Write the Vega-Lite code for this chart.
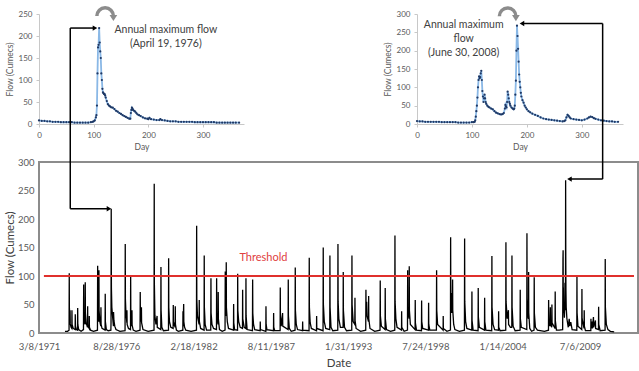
{
  "$schema": "https://vega.github.io/schema/vega-lite/v6.json",
  "background": "white",
  "padding": {"left": 3, "top": 0, "right": 0, "bottom": 0},
  "config": {
    "font": "Lato",
    "view": {"stroke": null},
    "axis": {"grid": false, "labelColor": "#595959", "titleColor": "#595959", "titleFontWeight": "normal", "labelFont": "Lato", "titleFont": "Lato", "labelOverlap": false, "tickCount": 20}
  },
  "datasets": {
    "flow": [
      {"d":"1973-01-08","q":3},{"d":"1973-03-15","q":3},{"d":"1973-04-24","q":5},{"d":"1973-04-29","q":105},{"d":"1973-05-02","q":45},{"d":"1973-05-15","q":22},{"d":"1973-05-20","q":40},{"d":"1973-05-25","q":16},{"d":"1973-06-15","q":10},{"d":"1973-07-04","q":8},{"d":"1973-07-08","q":40},{"d":"1973-07-12","q":15},{"d":"1973-08-10","q":8},{"d":"1973-09-28","q":6},{"d":"1973-10-02","q":33},{"d":"1973-10-06","q":12},{"d":"1973-10-30","q":6},{"d":"1973-11-29","q":5},{"d":"1973-12-03","q":44},{"d":"1973-12-07","q":15},{"d":"1973-12-28","q":6},
      {"d":"1974-03-01","q":3},{"d":"1974-05-02","q":6},{"d":"1974-05-07","q":85},{"d":"1974-05-11","q":35},{"d":"1974-05-25","q":20},{"d":"1974-06-13","q":15},{"d":"1974-06-17","q":89},{"d":"1974-06-21","q":35},{"d":"1974-07-10","q":18},{"d":"1974-08-14","q":10},{"d":"1974-08-18","q":47},{"d":"1974-08-22","q":15},{"d":"1974-09-10","q":10},{"d":"1974-09-26","q":8},{"d":"1974-09-29","q":30},{"d":"1974-10-03","q":10},{"d":"1974-11-01","q":5},
      {"d":"1975-01-15","q":3},{"d":"1975-04-29","q":5},{"d":"1975-05-04","q":118},{"d":"1975-05-08","q":45},{"d":"1975-05-25","q":25},{"d":"1975-06-02","q":20},{"d":"1975-06-06","q":110},{"d":"1975-06-10","q":40},{"d":"1975-06-30","q":20},{"d":"1975-07-24","q":12},{"d":"1975-07-28","q":45},{"d":"1975-08-01","q":15},{"d":"1975-08-25","q":8},{"d":"1975-11-12","q":5},{"d":"1975-11-16","q":69},{"d":"1975-11-20","q":20},{"d":"1975-12-15","q":6},
      {"d":"1976-02-01","q":4},{"d":"1976-04-10","q":5},{"d":"1976-04-14","q":18},{"d":"1976-04-16","q":115},{"d":"1976-04-19","q":218},{"d":"1976-04-21","q":165},{"d":"1976-04-24","q":80},{"d":"1976-05-05","q":45},{"d":"1976-05-25","q":28},{"d":"1976-06-15","q":12},{"d":"1976-06-18","q":37},{"d":"1976-06-28","q":22},{"d":"1976-07-20","q":12},{"d":"1976-08-20","q":6},{"d":"1976-12-01","q":3},
      {"d":"1977-04-12","q":4},{"d":"1977-04-17","q":156},{"d":"1977-04-21","q":60},{"d":"1977-05-02","q":40},{"d":"1977-05-28","q":18},{"d":"1977-05-31","q":40},{"d":"1977-06-05","q":15},{"d":"1977-07-10","q":8},{"d":"1977-08-31","q":6},{"d":"1977-09-04","q":100},{"d":"1977-09-08","q":40},{"d":"1977-09-20","q":25},{"d":"1977-10-05","q":12},{"d":"1977-10-08","q":40},{"d":"1977-10-12","q":14},{"d":"1977-11-10","q":5},
      {"d":"1978-01-20","q":3},{"d":"1978-05-05","q":5},{"d":"1978-05-10","q":72},{"d":"1978-05-14","q":30},{"d":"1978-06-01","q":20},{"d":"1978-06-10","q":45},{"d":"1978-06-14","q":18},{"d":"1978-07-20","q":6},{"d":"1978-12-01","q":3},
      {"d":"1979-05-02","q":5},{"d":"1979-05-07","q":262},{"d":"1979-05-10","q":90},{"d":"1979-05-25","q":30},{"d":"1979-06-20","q":15},{"d":"1979-07-20","q":30},{"d":"1979-07-25","q":10},{"d":"1979-10-24","q":6},{"d":"1979-10-28","q":116},{"d":"1979-11-01","q":40},{"d":"1979-11-20","q":10},{"d":"1979-12-31","q":4},
      {"d":"1980-05-10","q":5},{"d":"1980-05-14","q":131},{"d":"1980-05-18","q":45},{"d":"1980-06-05","q":20},{"d":"1980-07-10","q":10},{"d":"1980-09-07","q":8},{"d":"1980-09-11","q":49},{"d":"1980-09-15","q":20},{"d":"1980-10-29","q":10},{"d":"1980-11-02","q":47},{"d":"1980-11-06","q":15},{"d":"1980-12-01","q":5},
      {"d":"1981-01-20","q":3},{"d":"1981-05-16","q":5},{"d":"1981-05-20","q":38},{"d":"1981-05-25","q":12},{"d":"1981-06-07","q":51},{"d":"1981-06-11","q":20},{"d":"1981-07-01","q":10},{"d":"1981-08-01","q":5},{"d":"1981-12-15","q":3},
      {"d":"1982-05-04","q":5},{"d":"1982-05-09","q":188},{"d":"1982-05-13","q":60},{"d":"1982-05-30","q":30},{"d":"1982-07-11","q":15},{"d":"1982-07-15","q":58},{"d":"1982-07-19","q":20},{"d":"1982-08-20","q":8},{"d":"1982-11-17","q":5},{"d":"1982-11-21","q":136},{"d":"1982-11-25","q":45},{"d":"1982-12-15","q":15},
      {"d":"1983-01-20","q":5},{"d":"1983-05-09","q":5},{"d":"1983-05-14","q":96},{"d":"1983-05-18","q":35},{"d":"1983-06-10","q":15},{"d":"1983-07-20","q":8},{"d":"1983-10-04","q":6},{"d":"1983-10-08","q":96},{"d":"1983-10-12","q":35},{"d":"1983-11-14","q":15},{"d":"1983-11-18","q":72},{"d":"1983-11-22","q":25},{"d":"1983-12-20","q":6},
      {"d":"1984-03-01","q":3},{"d":"1984-05-13","q":5},{"d":"1984-05-18","q":108},{"d":"1984-05-22","q":50},{"d":"1984-06-09","q":30},{"d":"1984-06-13","q":124},{"d":"1984-06-17","q":45},{"d":"1984-07-10","q":20},{"d":"1984-08-10","q":8},{"d":"1984-12-17","q":5},{"d":"1984-12-21","q":51},{"d":"1984-12-25","q":18},
      {"d":"1985-01-15","q":6},{"d":"1985-04-01","q":5},{"d":"1985-04-05","q":104},{"d":"1985-04-09","q":40},{"d":"1985-05-01","q":20},{"d":"1985-06-10","q":10},{"d":"1985-08-07","q":8},{"d":"1985-08-11","q":76},{"d":"1985-08-15","q":25},{"d":"1985-09-20","q":10},{"d":"1985-11-01","q":8},{"d":"1985-11-05","q":96},{"d":"1985-11-09","q":30},{"d":"1985-12-05","q":6},
      {"d":"1986-04-22","q":4},{"d":"1986-04-27","q":94},{"d":"1986-05-01","q":35},{"d":"1986-05-20","q":15},{"d":"1986-06-20","q":6},{"d":"1986-11-07","q":4},{"d":"1986-11-10","q":20},{"d":"1986-11-15","q":6},
      {"d":"1987-04-03","q":3},{"d":"1987-04-07","q":47},{"d":"1987-04-11","q":15},{"d":"1987-05-01","q":6},{"d":"1987-10-19","q":4},{"d":"1987-10-22","q":35},{"d":"1987-10-26","q":10},{"d":"1987-11-20","q":4},
      {"d":"1988-04-07","q":4},{"d":"1988-04-11","q":80},{"d":"1988-04-15","q":30},{"d":"1988-05-05","q":12},{"d":"1988-06-10","q":35},{"d":"1988-06-14","q":12},{"d":"1988-10-31","q":6},{"d":"1988-11-04","q":94},{"d":"1988-11-08","q":30},{"d":"1988-12-01","q":8},
      {"d":"1989-01-20","q":3},{"d":"1989-04-29","q":5},{"d":"1989-05-04","q":115},{"d":"1989-05-08","q":40},{"d":"1989-05-30","q":15},{"d":"1989-07-01","q":6},{"d":"1989-11-08","q":4},{"d":"1989-11-11","q":20},{"d":"1989-11-16","q":5},
      {"d":"1990-04-26","q":4},{"d":"1990-05-01","q":132},{"d":"1990-05-05","q":45},{"d":"1990-05-25","q":18},{"d":"1990-06-25","q":8},{"d":"1990-11-05","q":4},{"d":"1990-11-08","q":30},{"d":"1990-11-12","q":8},
      {"d":"1991-04-23","q":4},{"d":"1991-04-28","q":150},{"d":"1991-05-02","q":50},{"d":"1991-05-25","q":20},{"d":"1991-07-01","q":8},{"d":"1991-10-14","q":6},{"d":"1991-10-18","q":136},{"d":"1991-10-22","q":45},{"d":"1991-11-15","q":10},{"d":"1991-12-31","q":4},
      {"d":"1992-05-08","q":5},{"d":"1992-05-13","q":156},{"d":"1992-05-17","q":55},{"d":"1992-06-05","q":25},{"d":"1992-07-15","q":10},{"d":"1992-09-23","q":10},{"d":"1992-09-27","q":107},{"d":"1992-10-01","q":40},{"d":"1992-10-30","q":10},{"d":"1992-12-20","q":4},
      {"d":"1993-05-05","q":5},{"d":"1993-05-10","q":136},{"d":"1993-05-14","q":50},{"d":"1993-06-10","q":20},{"d":"1993-07-23","q":15},{"d":"1993-07-27","q":62},{"d":"1993-07-31","q":22},{"d":"1993-08-25","q":8},{"d":"1993-12-20","q":3},
      {"d":"1994-05-02","q":5},{"d":"1994-05-07","q":76},{"d":"1994-05-11","q":40},{"d":"1994-05-25","q":55},{"d":"1994-06-05","q":30},{"d":"1994-07-12","q":20},{"d":"1994-07-16","q":65},{"d":"1994-07-20","q":25},{"d":"1994-08-20","q":8},{"d":"1994-12-20","q":3},
      {"d":"1995-05-07","q":5},{"d":"1995-05-12","q":92},{"d":"1995-05-16","q":30},{"d":"1995-06-10","q":12},{"d":"1995-09-14","q":6},{"d":"1995-09-18","q":79},{"d":"1995-09-22","q":25},{"d":"1995-10-20","q":6},
      {"d":"1996-02-01","q":3},{"d":"1996-05-22","q":5},{"d":"1996-05-27","q":171},{"d":"1996-05-31","q":55},{"d":"1996-06-20","q":25},{"d":"1996-07-20","q":10},{"d":"1996-11-13","q":5},{"d":"1996-11-16","q":38},{"d":"1996-11-20","q":10},
      {"d":"1997-01-20","q":3},{"d":"1997-04-16","q":5},{"d":"1997-04-21","q":110},{"d":"1997-04-25","q":40},{"d":"1997-05-28","q":25},{"d":"1997-06-01","q":117},{"d":"1997-06-05","q":40},{"d":"1997-06-30","q":15},{"d":"1997-10-30","q":6},{"d":"1997-11-03","q":58},{"d":"1997-11-07","q":18},{"d":"1997-12-05","q":5},
      {"d":"1998-04-13","q":4},{"d":"1998-04-17","q":57},{"d":"1998-04-21","q":20},{"d":"1998-05-15","q":8},{"d":"1998-10-11","q":5},{"d":"1998-10-15","q":53},{"d":"1998-10-19","q":15},{"d":"1998-11-15","q":5},
      {"d":"1999-05-05","q":5},{"d":"1999-05-10","q":110},{"d":"1999-05-14","q":40},{"d":"1999-06-05","q":15},{"d":"1999-10-25","q":5},{"d":"1999-10-28","q":30},{"d":"1999-11-01","q":8},
      {"d":"2000-02-01","q":3},{"d":"2000-05-02","q":5},{"d":"2000-05-07","q":168},{"d":"2000-05-11","q":70},{"d":"2000-05-20","q":60},{"d":"2000-05-25","q":35},{"d":"2000-06-05","q":50},{"d":"2000-06-12","q":70},{"d":"2000-06-18","q":35},{"d":"2000-06-27","q":94},{"d":"2000-07-01","q":40},{"d":"2000-07-25","q":15},{"d":"2000-08-25","q":6},{"d":"2000-12-20","q":3},
      {"d":"2001-04-29","q":5},{"d":"2001-05-04","q":166},{"d":"2001-05-08","q":55},{"d":"2001-05-30","q":20},{"d":"2001-07-01","q":8},{"d":"2001-11-05","q":5},{"d":"2001-11-09","q":73},{"d":"2001-11-13","q":22},{"d":"2001-12-10","q":5},
      {"d":"2002-04-17","q":4},{"d":"2002-04-21","q":79},{"d":"2002-04-25","q":28},{"d":"2002-05-20","q":10},{"d":"2002-09-30","q":5},{"d":"2002-10-04","q":62},{"d":"2002-10-08","q":20},{"d":"2002-11-05","q":5},
      {"d":"2003-04-05","q":4},{"d":"2003-04-10","q":135},{"d":"2003-04-14","q":45},{"d":"2003-05-10","q":15},{"d":"2003-06-20","q":6},{"d":"2003-09-28","q":5},{"d":"2003-10-01","q":38},{"d":"2003-10-05","q":10},{"d":"2003-11-10","q":4},
      {"d":"2004-04-02","q":5},{"d":"2004-04-07","q":159},{"d":"2004-04-11","q":55},{"d":"2004-05-10","q":25},{"d":"2004-06-10","q":40},{"d":"2004-06-15","q":15},{"d":"2004-08-01","q":10},{"d":"2004-09-06","q":10},{"d":"2004-09-10","q":136},{"d":"2004-09-14","q":45},{"d":"2004-10-10","q":12},{"d":"2004-12-01","q":4},
      {"d":"2005-04-08","q":5},{"d":"2005-04-12","q":76},{"d":"2005-04-16","q":25},{"d":"2005-05-10","q":10},{"d":"2005-09-29","q":6},{"d":"2005-10-03","q":175},{"d":"2005-10-07","q":60},{"d":"2005-10-25","q":30},{"d":"2005-11-11","q":25},{"d":"2005-11-15","q":107},{"d":"2005-11-19","q":35},{"d":"2005-12-15","q":8},
      {"d":"2006-02-01","q":3},{"d":"2006-04-05","q":5},{"d":"2006-04-09","q":98},{"d":"2006-04-13","q":35},{"d":"2006-05-10","q":10},{"d":"2006-07-01","q":5},{"d":"2006-12-31","q":3},
      {"d":"2007-04-13","q":5},{"d":"2007-04-17","q":58},{"d":"2007-04-21","q":20},{"d":"2007-05-20","q":12},{"d":"2007-06-01","q":45},{"d":"2007-06-05","q":15},{"d":"2007-07-07","q":10},{"d":"2007-07-11","q":50},{"d":"2007-07-15","q":18},{"d":"2007-09-30","q":8},{"d":"2007-10-04","q":73},{"d":"2007-10-08","q":22},{"d":"2007-11-05","q":5},
      {"d":"2008-01-15","q":5},{"d":"2008-04-14","q":6},{"d":"2008-04-19","q":72},{"d":"2008-04-22","q":130},{"d":"2008-04-26","q":145},{"d":"2008-04-29","q":75},{"d":"2008-05-02","q":80},{"d":"2008-05-07","q":50},{"d":"2008-05-17","q":40},{"d":"2008-05-29","q":27},{"d":"2008-06-09","q":52},{"d":"2008-06-13","q":88},{"d":"2008-06-20","q":45},{"d":"2008-06-24","q":40},{"d":"2008-06-28","q":118},{"d":"2008-06-30","q":268},{"d":"2008-07-02","q":200},{"d":"2008-07-04","q":135},{"d":"2008-07-08","q":75},{"d":"2008-07-15","q":45},{"d":"2008-08-02","q":25},{"d":"2008-09-06","q":10},{"d":"2008-09-30","q":25},{"d":"2008-10-15","q":12},{"d":"2008-11-10","q":19},{"d":"2008-12-15","q":6},
      {"d":"2009-04-15","q":5},{"d":"2009-04-19","q":100},{"d":"2009-04-23","q":35},{"d":"2009-05-15","q":12},{"d":"2009-08-22","q":6},{"d":"2009-08-26","q":77},{"d":"2009-08-30","q":25},{"d":"2009-10-20","q":8},{"d":"2009-10-24","q":40},{"d":"2009-10-28","q":12},{"d":"2009-11-25","q":4},
      {"d":"2010-04-13","q":4},{"d":"2010-04-16","q":25},{"d":"2010-04-20","q":8},{"d":"2010-05-20","q":20},{"d":"2010-05-25","q":8},{"d":"2010-06-20","q":28},{"d":"2010-06-25","q":10},{"d":"2010-08-10","q":22},{"d":"2010-08-15","q":8},{"d":"2010-10-28","q":6},{"d":"2010-11-01","q":46},{"d":"2010-11-05","q":15},{"d":"2010-12-10","q":4},
      {"d":"2011-04-17","q":5},{"d":"2011-04-21","q":130},{"d":"2011-04-25","q":45},{"d":"2011-05-20","q":15},{"d":"2011-06-30","q":6},{"d":"2011-09-01","q":3},{"d":"2011-12-08","q":2}
    ],
    "y1976": [
      {"day":0,"q":8},{"day":5,"q":7},{"day":10,"q":7},{"day":15,"q":6},{"day":20,"q":6},{"day":25,"q":5},{"day":30,"q":5},{"day":35,"q":5},{"day":40,"q":4},{"day":45,"q":4},{"day":50,"q":4},{"day":55,"q":4},{"day":60,"q":4},{"day":65,"q":3},{"day":70,"q":3},{"day":75,"q":3},{"day":80,"q":3},{"day":85,"q":3},{"day":90,"q":3},{"day":95,"q":4},{"day":98,"q":5},{"day":100,"q":6},{"day":102,"q":8},{"day":104,"q":15},{"day":105,"q":20},{"day":106,"q":42},{"day":107,"q":115},{"day":108,"q":174},{"day":109,"q":180},{"day":110,"q":218},{"day":111,"q":185},{"day":112,"q":165},{"day":113,"q":150},{"day":114,"q":115},{"day":115,"q":100},{"day":116,"q":80},{"day":117,"q":72},{"day":118,"q":70},{"day":119,"q":68},{"day":120,"q":68},{"day":121,"q":65},{"day":122,"q":60},{"day":124,"q":52},{"day":126,"q":45},{"day":128,"q":42},{"day":130,"q":40},{"day":132,"q":38},{"day":135,"q":37},{"day":138,"q":34},{"day":141,"q":30},{"day":144,"q":28},{"day":147,"q":25},{"day":150,"q":23},{"day":153,"q":20},{"day":156,"q":18},{"day":159,"q":16},{"day":162,"q":14},{"day":165,"q":12},{"day":167,"q":12},{"day":168,"q":25},{"day":169,"q":32},{"day":170,"q":37},{"day":171,"q":35},{"day":172,"q":32},{"day":174,"q":30},{"day":176,"q":28},{"day":178,"q":25},{"day":180,"q":22},{"day":183,"q":20},{"day":186,"q":18},{"day":190,"q":15},{"day":194,"q":13},{"day":198,"q":12},{"day":200,"q":11},{"day":202,"q":14},{"day":205,"q":11},{"day":210,"q":10},{"day":215,"q":9},{"day":220,"q":9},{"day":222,"q":11},{"day":225,"q":9},{"day":230,"q":8},{"day":235,"q":7},{"day":240,"q":6},{"day":245,"q":6},{"day":250,"q":6},{"day":255,"q":5},{"day":260,"q":5},{"day":265,"q":5},{"day":270,"q":5},{"day":275,"q":5},{"day":280,"q":5},{"day":285,"q":4},{"day":290,"q":4},{"day":295,"q":4},{"day":300,"q":4},{"day":305,"q":4},{"day":310,"q":4},{"day":315,"q":4},{"day":320,"q":4},{"day":325,"q":3},{"day":330,"q":3},{"day":335,"q":3},{"day":340,"q":3},{"day":345,"q":3},{"day":350,"q":3},{"day":355,"q":3},{"day":360,"q":3},{"day":366,"q":3}
    ],
    "y2008": [
      {"day":0,"q":8},{"day":5,"q":7},{"day":10,"q":7},{"day":15,"q":6},{"day":20,"q":6},{"day":25,"q":6},{"day":30,"q":6},{"day":35,"q":6},{"day":40,"q":6},{"day":45,"q":5},{"day":50,"q":5},{"day":55,"q":5},{"day":60,"q":5},{"day":65,"q":5},{"day":70,"q":5},{"day":75,"q":4},{"day":80,"q":4},{"day":85,"q":4},{"day":90,"q":4},{"day":95,"q":4},{"day":100,"q":5},{"day":103,"q":5},{"day":105,"q":6},{"day":106,"q":10},{"day":107,"q":20},{"day":108,"q":35},{"day":109,"q":50},{"day":110,"q":72},{"day":111,"q":100},{"day":112,"q":120},{"day":113,"q":130},{"day":114,"q":125},{"day":115,"q":128},{"day":116,"q":138},{"day":117,"q":145},{"day":118,"q":120},{"day":119,"q":90},{"day":120,"q":75},{"day":121,"q":60},{"day":122,"q":70},{"day":123,"q":80},{"day":124,"q":70},{"day":125,"q":60},{"day":126,"q":55},{"day":128,"q":50},{"day":130,"q":47},{"day":132,"q":45},{"day":135,"q":42},{"day":138,"q":40},{"day":141,"q":35},{"day":144,"q":31},{"day":147,"q":29},{"day":150,"q":27},{"day":153,"q":26},{"day":156,"q":27},{"day":158,"q":30},{"day":160,"q":42},{"day":161,"q":52},{"day":162,"q":48},{"day":163,"q":45},{"day":164,"q":60},{"day":165,"q":88},{"day":166,"q":80},{"day":167,"q":70},{"day":168,"q":60},{"day":169,"q":55},{"day":170,"q":50},{"day":172,"q":45},{"day":174,"q":42},{"day":176,"q":40},{"day":177,"q":42},{"day":178,"q":50},{"day":179,"q":80},{"day":180,"q":118},{"day":181,"q":200},{"day":182,"q":268},{"day":183,"q":240},{"day":184,"q":205},{"day":185,"q":170},{"day":186,"q":135},{"day":187,"q":115},{"day":188,"q":100},{"day":189,"q":85},{"day":190,"q":75},{"day":192,"q":65},{"day":194,"q":58},{"day":196,"q":50},{"day":198,"q":45},{"day":200,"q":40},{"day":203,"q":35},{"day":206,"q":32},{"day":210,"q":28},{"day":215,"q":25},{"day":220,"q":22},{"day":225,"q":18},{"day":230,"q":15},{"day":235,"q":13},{"day":240,"q":12},{"day":245,"q":11},{"day":250,"q":10},{"day":255,"q":9},{"day":260,"q":8},{"day":265,"q":7},{"day":268,"q":8},{"day":270,"q":10},{"day":272,"q":18},{"day":274,"q":25},{"day":276,"q":22},{"day":278,"q":18},{"day":280,"q":15},{"day":285,"q":13},{"day":290,"q":12},{"day":295,"q":11},{"day":300,"q":10},{"day":305,"q":12},{"day":310,"q":15},{"day":313,"q":18},{"day":316,"q":20},{"day":319,"q":19},{"day":322,"q":16},{"day":325,"q":14},{"day":330,"q":12},{"day":335,"q":10},{"day":340,"q":9},{"day":345,"q":8},{"day":350,"q":7},{"day":355,"q":7},{"day":360,"q":6},{"day":366,"q":6}
    ],
    "ann1": [{"day":232,"q":225,"label":"Annual maximum flow\n(April 19, 1976)"}],
    "ann2": [{"day":85,"q":285,"label":"Annual maximum\nflow\n(June 30, 2008)"}],
    "curl1": [{"day":123,"q":258}],
    "curl2": [{"day":167,"q":309}],
    "arrows": [
      {"d":"1973-05-25","q":535,"d2":"1973-05-25","q2":218},
      {"d":"1973-05-25","q":535,"d2":"1975-02-24","q2":535},
      {"d":"1973-05-25","q":218,"d2":"1976-02-21","q2":218},
      {"d":"2011-02-13","q":543,"d2":"2011-02-13","q2":270},
      {"d":"2011-02-13","q":543,"d2":"2005-05-27","q2":543},
      {"d":"2011-02-13","q":270,"d2":"2008-10-07","q2":270}
    ],
    "heads": [
      {"d":"1975-02-24","q":535,"shape":"triangle-right"},
      {"d":"1976-02-21","q":218,"shape":"triangle-right"},
      {"d":"2005-05-27","q":543,"shape":"triangle-left"},
      {"d":"2008-10-07","q":270,"shape":"triangle-left"}
    ],
    "threshold": [{"d":"1971-07-13","d2":"2013-05-04","q":100,"label":"Threshold","dl":"1987-02-01","ql":131}]
  },
  "bounds": "flush",
  "spacing": 148,
  "vconcat": [
    {
      "bounds": "flush",
      "spacing": 173,
      "hconcat": [
        {
          "width": 205, "height": 110,
          "layer": [
            {"data": {"name": "y1976"}, "mark": {"type": "line", "color": "#8ab8e6", "strokeWidth": 1.8},
             "encoding": {
               "x": {"field": "day", "type": "quantitative", "scale": {"domain": [0, 375], "nice": false},
                     "axis": {"values": [0,100,200,300], "tickCount": 20, "title": "Day", "labelFontSize": 8, "titleFontSize": 8.5, "domainColor": "#c8c8c8", "tickColor": "#c8c8c8", "tickSize": 3, "labelPadding": 4, "titlePadding": 3, "labelFlush": false}},
               "y": {"field": "q", "type": "quantitative", "scale": {"domain": [0, 250], "nice": false},
                     "axis": {"values": [0,50,100,150,200,250], "tickCount": 20, "title": "Flow (Cumecs)", "labelFontSize": 8, "titleFontSize": 8.5, "domainColor": "#c8c8c8", "tickColor": "#c8c8c8", "tickSize": 3, "labelPadding": 4, "titlePadding": 4, "labelFlush": false}}
             }},
            {"data": {"name": "y1976"}, "mark": {"type": "circle", "size": 5, "color": "#1f3864", "opacity": 1},
             "encoding": {"x": {"field": "day", "type": "quantitative"}, "y": {"field": "q", "type": "quantitative"}}},
            {"data": {"name": "ann1"}, "mark": {"type": "text", "fontSize": 10.5, "color": "#404040", "lineBreak": "\n", "baseline": "top", "align": "center", "lineHeight": 14},
             "encoding": {"x": {"field": "day", "type": "quantitative"}, "y": {"field": "q", "type": "quantitative"}, "text": {"field": "label"}}},
            {"data": {"name": "curl1"}, "mark": {"type": "point", "shape": "M -0.85 0.5 A 0.75 0.75 0 0 1 0.65 0.5", "filled": false, "size": 484, "strokeWidth": 3.5, "color": "#8c8c8c", "opacity": 1},
             "encoding": {"x": {"field": "day", "type": "quantitative"}, "y": {"field": "q", "type": "quantitative"}}},
            {"data": {"name": "curl1"}, "mark": {"type": "point", "shape": "M 0.3 0.4 L 1.0 0.4 L 0.65 0.95 Z", "filled": true, "size": 484, "color": "#8c8c8c", "opacity": 1},
             "encoding": {"x": {"field": "day", "type": "quantitative"}, "y": {"field": "q", "type": "quantitative"}}}
          ]
        },
        {
          "width": 206, "height": 110,
          "layer": [
            {"data": {"name": "y2008"}, "mark": {"type": "line", "color": "#8ab8e6", "strokeWidth": 1.8},
             "encoding": {
               "x": {"field": "day", "type": "quantitative", "scale": {"domain": [0, 375], "nice": false},
                     "axis": {"values": [0,100,200,300], "tickCount": 20, "title": "Day", "labelFontSize": 8, "titleFontSize": 8.5, "domainColor": "#c8c8c8", "tickColor": "#c8c8c8", "tickSize": 3, "labelPadding": 4, "titlePadding": 3, "labelFlush": false}},
               "y": {"field": "q", "type": "quantitative", "scale": {"domain": [0, 300], "nice": false},
                     "axis": {"values": [0,50,100,150,200,250,300], "tickCount": 20, "title": "Flow (Cumecs)", "labelFontSize": 8, "titleFontSize": 8.5, "domainColor": "#c8c8c8", "tickColor": "#c8c8c8", "tickSize": 3, "labelPadding": 4, "titlePadding": 4, "labelFlush": false}}
             }},
            {"data": {"name": "y2008"}, "mark": {"type": "circle", "size": 5, "color": "#1f3864", "opacity": 1},
             "encoding": {"x": {"field": "day", "type": "quantitative"}, "y": {"field": "q", "type": "quantitative"}}},
            {"data": {"name": "ann2"}, "mark": {"type": "text", "fontSize": 10.5, "color": "#404040", "lineBreak": "\n", "baseline": "top", "align": "center", "lineHeight": 14},
             "encoding": {"x": {"field": "day", "type": "quantitative"}, "y": {"field": "q", "type": "quantitative"}, "text": {"field": "label"}}},
            {"data": {"name": "curl2"}, "mark": {"type": "point", "shape": "M -0.85 0.5 A 0.75 0.75 0 0 1 0.65 0.5", "filled": false, "size": 484, "strokeWidth": 3.5, "color": "#8c8c8c", "opacity": 1},
             "encoding": {"x": {"field": "day", "type": "quantitative"}, "y": {"field": "q", "type": "quantitative"}}},
            {"data": {"name": "curl2"}, "mark": {"type": "point", "shape": "M 0.3 0.4 L 1.0 0.4 L 0.65 0.95 Z", "filled": true, "size": 484, "color": "#8c8c8c", "opacity": 1},
             "encoding": {"x": {"field": "day", "type": "quantitative"}, "y": {"field": "q", "type": "quantitative"}}}
          ]
        }
      ]
    },
    {
      "width": 599, "height": 171,
      "view": {"stroke": "#8c8c8c", "strokeWidth": 2},
      "layer": [
        {"data": {"name": "flow"}, "mark": {"type": "line", "color": "black", "strokeWidth": 1.3},
         "encoding": {
           "x": {"field": "d", "type": "temporal",
                 "scale": {"type": "utc", "nice": false, "domain": [{"year": 1971, "month": 3, "date": 8, "utc": true}, {"year": 2013, "month": 8, "date": 16, "utc": true}]},
                 "axis": {"values": [
                   {"year": 1971, "month": 3, "date": 8, "utc": true},
                   {"year": 1976, "month": 8, "date": 28, "utc": true},
                   {"year": 1982, "month": 2, "date": 18, "utc": true},
                   {"year": 1987, "month": 8, "date": 11, "utc": true},
                   {"year": 1993, "month": 1, "date": 31, "utc": true},
                   {"year": 1998, "month": 7, "date": 24, "utc": true},
                   {"year": 2004, "month": 1, "date": 14, "utc": true},
                   {"year": 2009, "month": 7, "date": 6, "utc": true}],
                   "tickCount": 30,
                   "labelExpr": "utcFormat(datum.value, '%-m/%-d/%Y')",
                   "title": "Date", "titleFontSize": 11.5, "titleColor": "#404040", "titlePadding": 7,
                   "labelFontSize": 9.5, "labelPadding": 8, "ticks": false, "domain": false, "labelFlush": false}},
           "y": {"field": "q", "type": "quantitative", "scale": {"domain": [0, 300], "nice": false},
                 "axis": {"values": [0,50,100,150,200,250,300], "tickCount": 20, "title": "Flow (Cumecs)", "titleFontSize": 11.5, "titleColor": "#404040", "titlePadding": 2, "labelFontSize": 9.5, "labelPadding": 5, "ticks": false, "domain": false, "labelFlush": false}}
         }},
        {"data": {"name": "threshold"}, "mark": {"type": "rule", "color": "#e0302c", "strokeWidth": 2},
         "encoding": {"x": {"field": "d", "type": "temporal"}, "x2": {"field": "d2"}, "y": {"field": "q", "type": "quantitative"}}},
        {"data": {"name": "threshold"}, "mark": {"type": "text", "color": "#e04040", "fontSize": 11, "align": "center", "baseline": "middle"},
         "encoding": {"x": {"field": "dl", "type": "temporal"}, "y": {"field": "ql", "type": "quantitative"}, "text": {"field": "label"}}},
        {"data": {"name": "arrows"}, "mark": {"type": "rule", "color": "black", "strokeWidth": 1.5},
         "encoding": {"x": {"field": "d", "type": "temporal"}, "x2": {"field": "d2"}, "y": {"field": "q", "type": "quantitative"}, "y2": {"field": "q2"}}},
        {"data": {"name": "heads"}, "mark": {"type": "point", "filled": true, "color": "black", "size": 28, "opacity": 1},
         "encoding": {"x": {"field": "d", "type": "temporal"}, "y": {"field": "q", "type": "quantitative"}, "shape": {"field": "shape", "type": "nominal", "scale": null}}}
      ]
    }
  ]
}
